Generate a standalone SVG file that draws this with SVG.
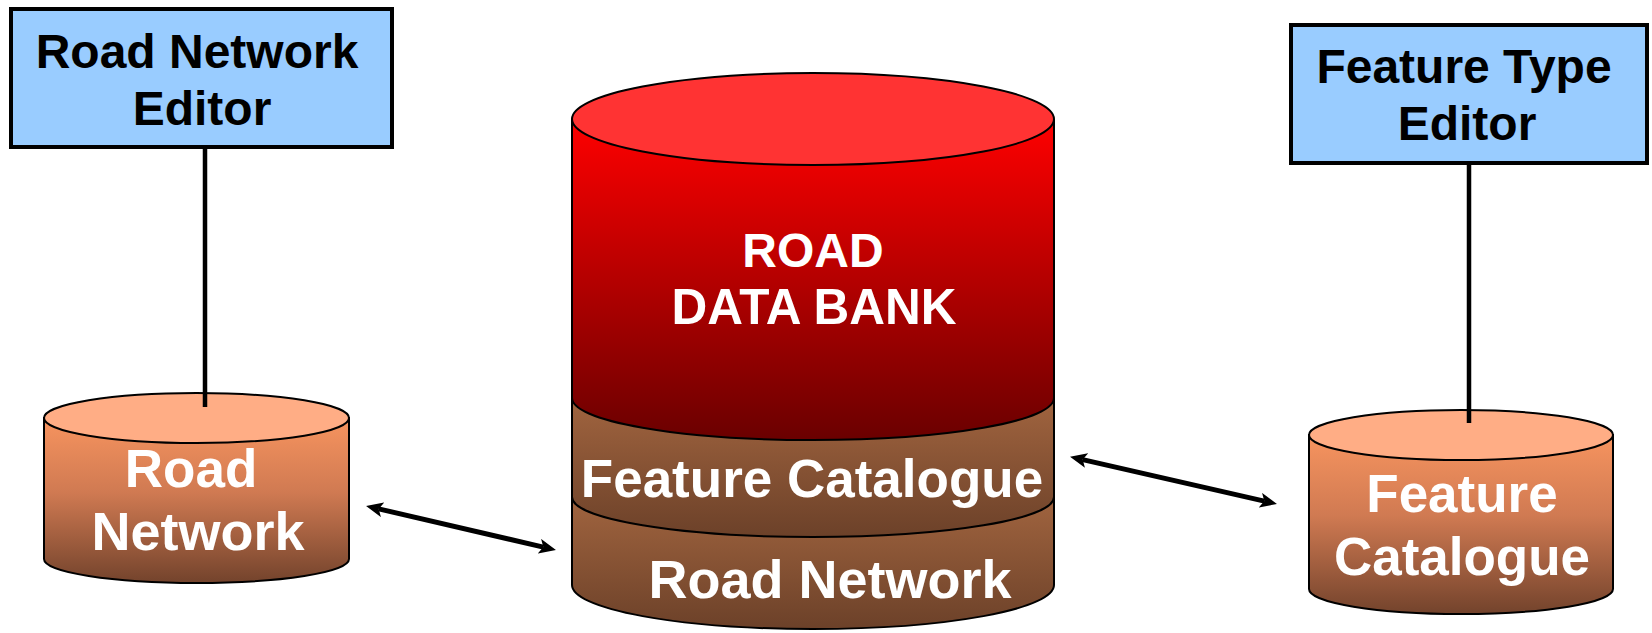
<svg xmlns="http://www.w3.org/2000/svg" width="1652" height="633" viewBox="0 0 1652 633">
<style>
.box{fill:#99ccff;stroke:#000;stroke-width:4}
.edge{stroke:#000;stroke-width:2;fill:none}
.tb{font-family:"Liberation Sans",Arial,sans-serif;font-weight:bold;fill:#000;text-anchor:middle}
.tw{font-family:"Liberation Sans",Arial,sans-serif;font-weight:bold;fill:#fff;text-anchor:middle}
.vline{stroke:#000;stroke-width:4.5;fill:none}
.conn{stroke:#000;stroke-width:5;fill:none;marker-start:url(#ah);marker-end:url(#ah)}
</style>
<defs>
<linearGradient id="gRed" x1="0" y1="0" x2="0" y2="1">
<stop offset="0" stop-color="#ff0000"/>
<stop offset="1" stop-color="#6a0000"/>
</linearGradient>
<linearGradient id="gBrown" x1="0" y1="0" x2="0" y2="1">
<stop offset="0" stop-color="#a86942"/>
<stop offset="1" stop-color="#6c4129"/>
</linearGradient>
<linearGradient id="gPeach" x1="0" y1="0" x2="0" y2="1">
<stop offset="0" stop-color="#f7945f"/>
<stop offset="0.45" stop-color="#d07a52"/>
<stop offset="1" stop-color="#73432c"/>
</linearGradient>
<marker id="ah" markerUnits="userSpaceOnUse" markerWidth="17" markerHeight="15" refX="4" refY="7.5" orient="auto-start-reverse" viewBox="0 0 17 15">
<path d="M0,0 L17,7.5 L0,15 L4,7.5 Z" fill="#000"/>
</marker>
</defs>

<g id="road-network-editor">
<rect class="box" x="11" y="9" width="381" height="138"/>
<text class="tb" x="197" y="68" font-size="48">Road Network</text>
<text class="tb" x="202" y="125" font-size="48">Editor</text>
</g>

<g id="feature-type-editor">
<rect class="box" x="1291" y="25" width="356" height="138"/>
<text class="tb" x="1464" y="83" font-size="48">Feature Type</text>
<text class="tb" x="1467" y="140" font-size="48">Editor</text>
</g>

<g id="road-data-bank">
<path d="M572,480 L572,585 A241,44 0 0 0 1054,585 L1054,480 Z" fill="url(#gBrown)"/>
<path d="M572,380 L572,497 A241,40 0 0 0 1054,497 L1054,380 Z" fill="url(#gBrown)"/>
<path d="M572,119 L572,398 A241,42 0 0 0 1054,398 L1054,119 Z" fill="url(#gRed)"/>
<path class="edge" d="M572,119 L572,585 A241,44 0 0 0 1054,585 L1054,119"/>
<path class="edge" d="M572,398 A241,42 0 0 0 1054,398"/>
<path class="edge" d="M572,497 A241,40 0 0 0 1054,497"/>
<ellipse cx="813" cy="119" rx="241" ry="46" fill="#ff3333" stroke="#000" stroke-width="2"/>
<text class="tw" x="813" y="267" font-size="48">ROAD</text>
<text class="tw" x="814" y="324" font-size="49.5">DATA BANK</text>
<text class="tw" x="812" y="497" font-size="53">Feature Catalogue</text>
<text class="tw" x="830" y="598" font-size="54">Road Network</text>
</g>

<g id="road-network-store">
<path d="M44,418 L44,559 A152.5,24 0 0 0 349,559 L349,418 Z" fill="url(#gPeach)" stroke="#000" stroke-width="2"/>
<ellipse cx="196.5" cy="418" rx="152.5" ry="25" fill="#ffad85" stroke="#000" stroke-width="2"/>
<text class="tw" x="191" y="487" font-size="53">Road</text>
<text class="tw" x="198" y="550" font-size="54">Network</text>
</g>

<g id="feature-catalogue-store">
<path d="M1309,435 L1309,589 A152,25 0 0 0 1613,589 L1613,435 Z" fill="url(#gPeach)" stroke="#000" stroke-width="2"/>
<ellipse cx="1461" cy="435" rx="152" ry="25" fill="#ffad85" stroke="#000" stroke-width="2"/>
<text class="tw" x="1462" y="512" font-size="53">Feature</text>
<text class="tw" x="1462" y="575" font-size="53">Catalogue</text>
</g>

<g id="connectors">
<line class="vline" x1="205" y1="147" x2="205" y2="407"/>
<line class="vline" x1="1469" y1="163" x2="1469" y2="423"/>
<line class="conn" x1="378.7" y1="508.9" x2="543.3" y2="547.1"/>
<line class="conn" x1="1082.7" y1="459.6" x2="1264.3" y2="501.1"/>
</g>
</svg>
